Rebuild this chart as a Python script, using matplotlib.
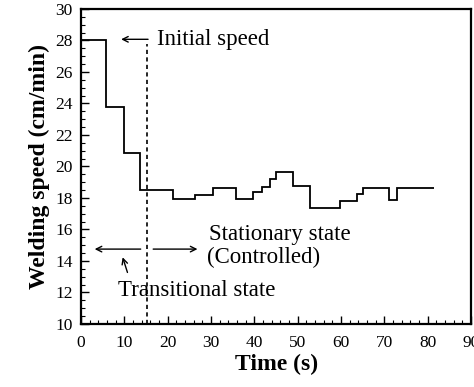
import matplotlib.pyplot as plt
from matplotlib.ticker import MultipleLocator

plt.rcParams['font.family'] = ['Liberation Serif', 'DejaVu Serif']

# Step edges (s) and welding speed levels (cm/min)
t_edges = [0, 5.7, 9.8, 13.6, 21.2, 26.3, 30.5, 35.7, 39.6, 41.7, 43.6, 45.0,
           48.9, 52.9, 59.8, 63.7, 65.0, 71.0, 73.0, 81.4]
speed = [28.0, 23.8, 20.85, 18.5, 17.9, 18.2, 18.65, 17.9, 18.35, 18.72, 19.2,
         19.65, 18.76, 17.38, 17.83, 18.25, 18.62, 17.87, 18.62]

t_switch = 15.2

fig = plt.figure(figsize=(4.74, 3.87), dpi=100)
ax = fig.add_axes([0.171, 0.163, 0.823, 0.814])

ax.stairs(speed, t_edges, color='black', linewidth=1.3, baseline=None)
ax.plot([t_switch, t_switch], [10, 27.8], color='black', linestyle=(0, (2.5, 2)),
        linewidth=1.2)

# annotations
fs = 16.5
ax.annotate('', xy=(8.6, 28.07), xytext=(16.1, 28.07),
            arrowprops=dict(arrowstyle='->', color='black', lw=1))
ax.text(17.6, 28.07, 'Initial speed', fontsize=fs, va='center', ha='left')

ax.annotate('', xy=(2.5, 14.75), xytext=(14.4, 14.75),
            arrowprops=dict(arrowstyle='->', color='black', lw=1))
ax.annotate('', xy=(27.5, 14.75), xytext=(16.0, 14.75),
            arrowprops=dict(arrowstyle='->', color='black', lw=1))
ax.text(29.5, 15.65, 'Stationary state', fontsize=fs, va='center', ha='left')
ax.text(29.0, 14.2, '(Controlled)', fontsize=fs, va='center', ha='left')
ax.annotate('', xy=(9.4, 14.4), xytext=(10.9, 13.1),
            arrowprops=dict(arrowstyle='->', color='black', lw=1))
ax.text(8.5, 12.1, 'Transitional state', fontsize=fs, va='center', ha='left')

ax.set_xlim(0, 90)
ax.set_ylim(10, 30)
ax.xaxis.set_major_locator(MultipleLocator(10))
ax.xaxis.set_minor_locator(MultipleLocator(2))
ax.yaxis.set_major_locator(MultipleLocator(2))
ax.yaxis.set_minor_locator(MultipleLocator(0.5))
ax.tick_params(which='both', direction='in', labelsize=12.5)
ax.tick_params(which='major', length=6, width=1)
ax.tick_params(which='minor', length=3, width=0.8)
ax.tick_params(axis='x', pad=8)
ax.tick_params(axis='y', pad=6)
for s in ax.spines.values():
    s.set_linewidth(1.6)

ax.set_xlabel('Time (s)', fontsize=17, fontweight='bold', labelpad=2)
ax.set_ylabel('Welding speed (cm/min)', fontsize=17, fontweight='bold', labelpad=4)

fig.savefig('out.png', dpi=100)
